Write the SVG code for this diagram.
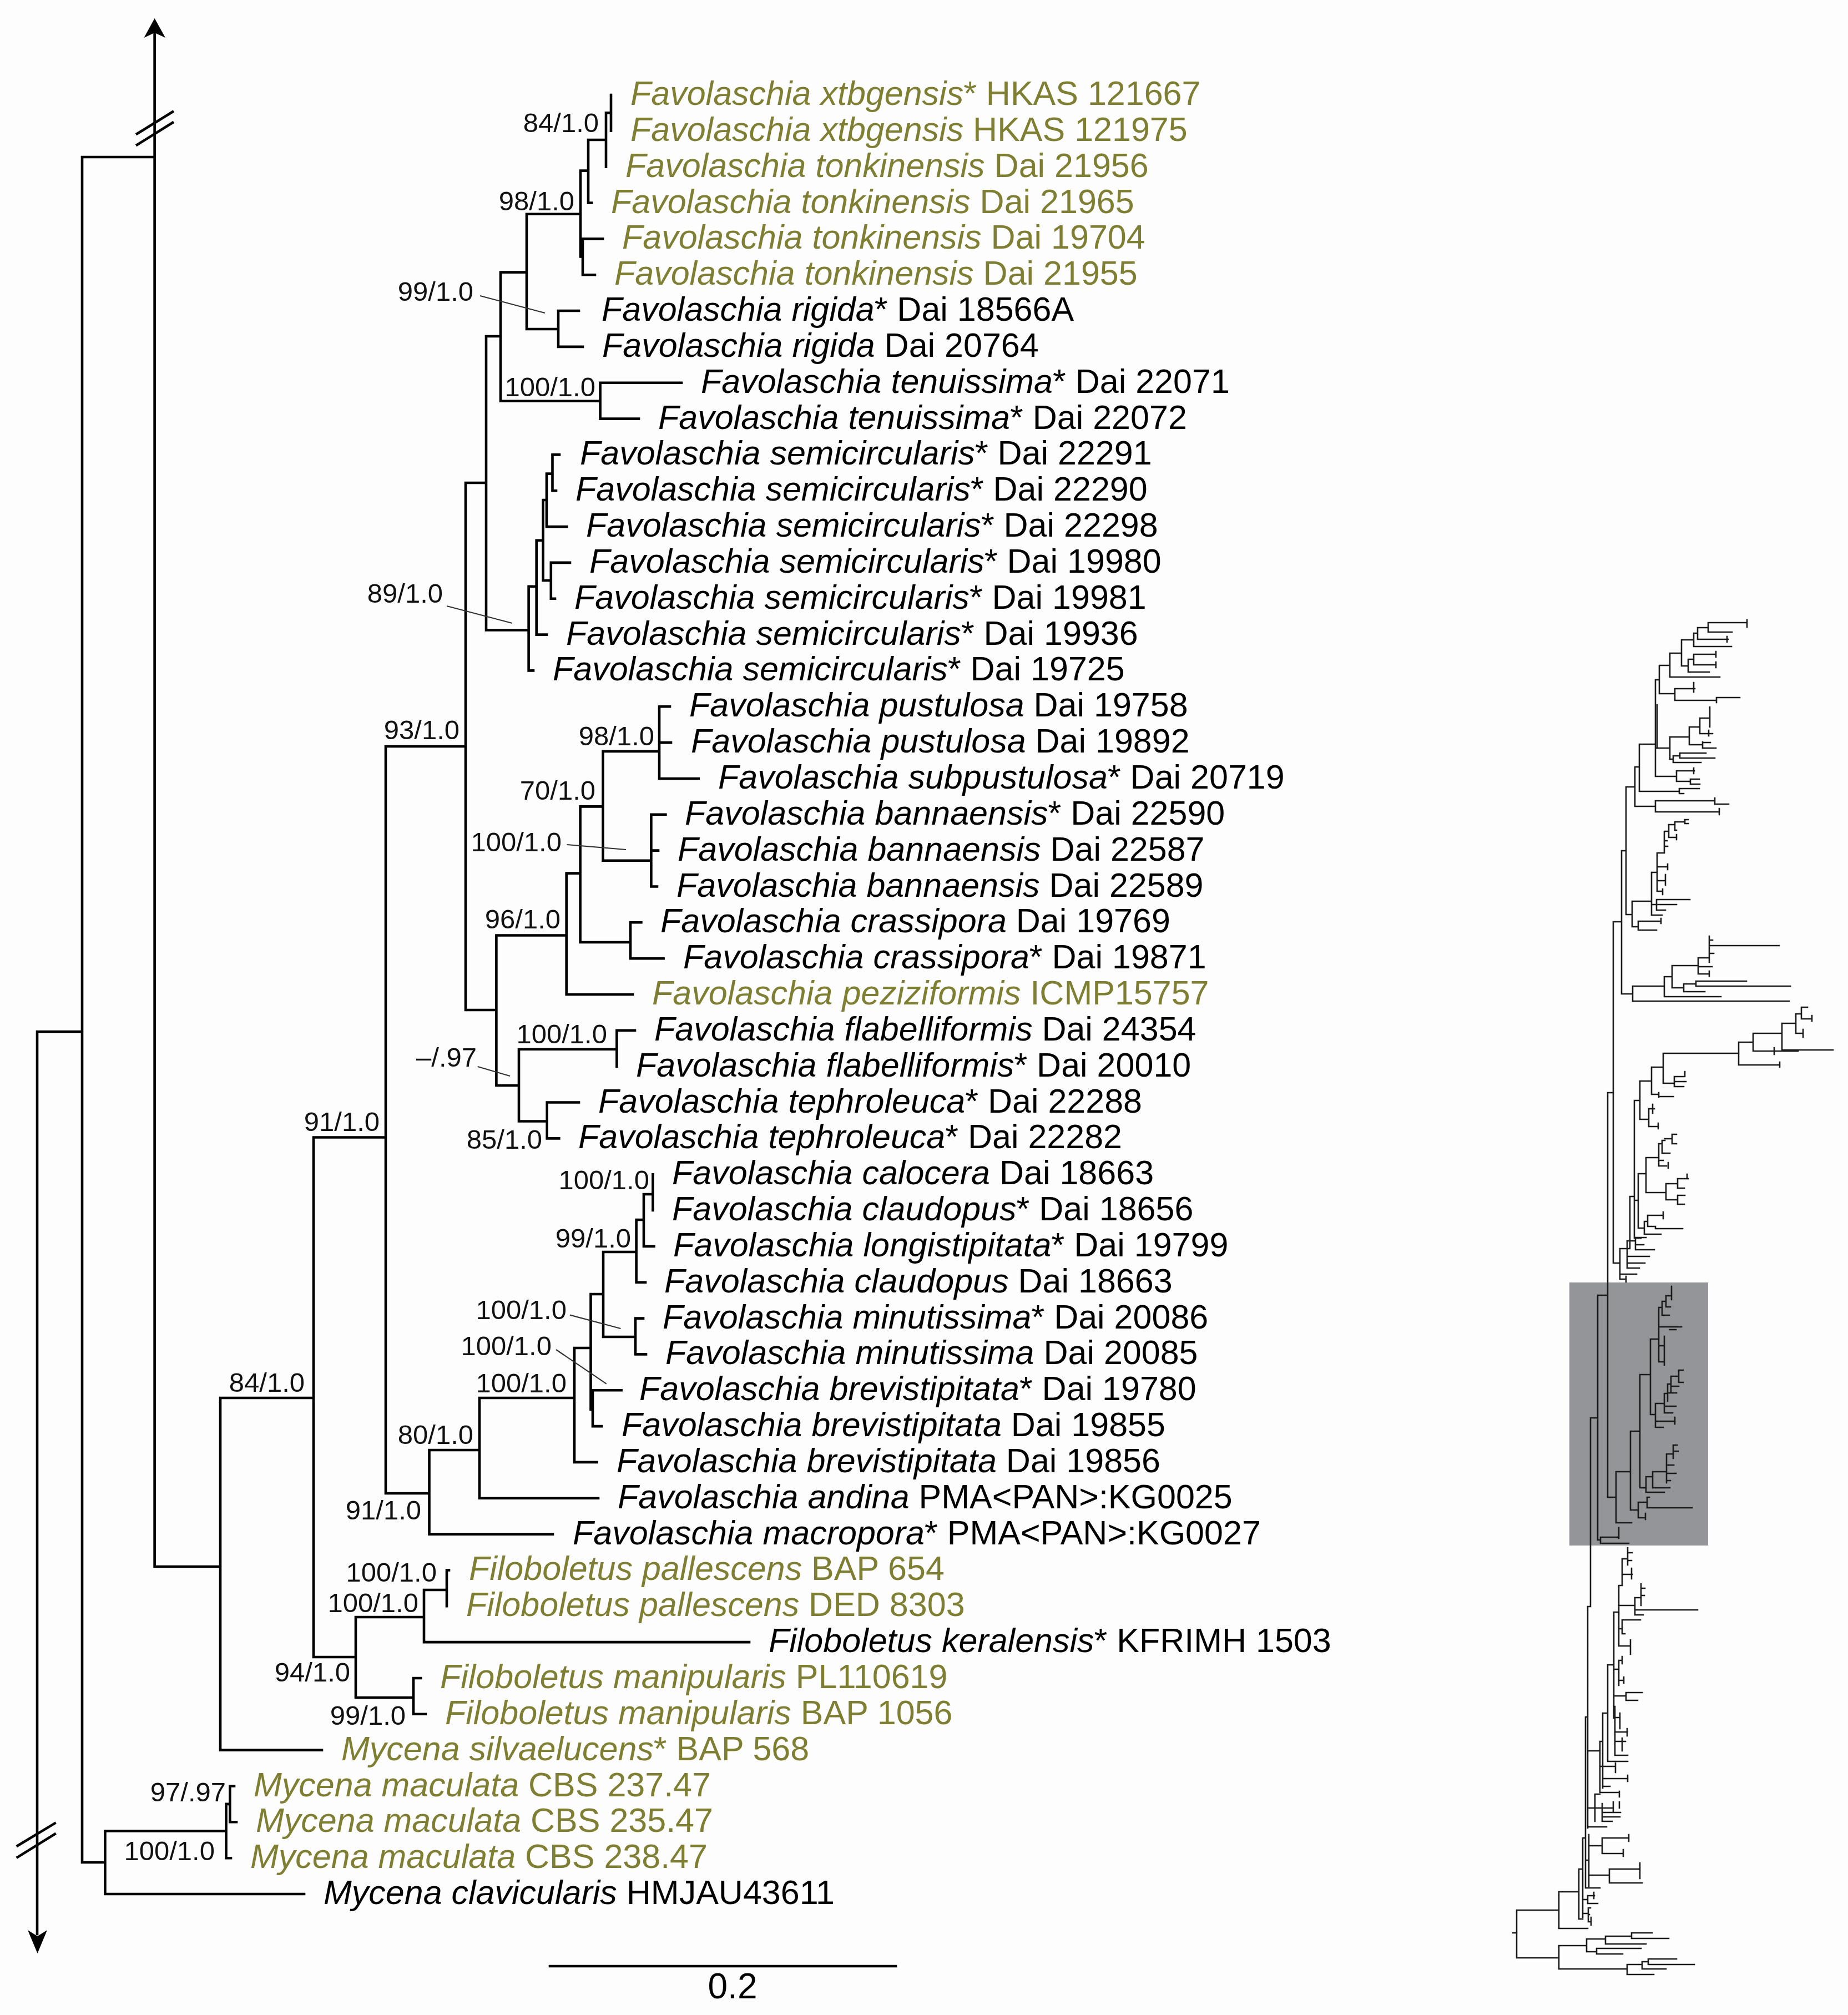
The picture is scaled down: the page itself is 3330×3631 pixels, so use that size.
<svg xmlns="http://www.w3.org/2000/svg" width="3330" height="3631" viewBox="0 0 3330 3631">
<style>
.br{fill:none;stroke:#000;stroke-width:4.6;stroke-linecap:square;stroke-linejoin:miter}
.ld{fill:none;stroke:#333;stroke-width:2.2}
.th{fill:none;stroke:#1a1a1a;stroke-width:2.6;stroke-linecap:square}
.tx{font-family:"Liberation Sans",Arial,sans-serif;font-size:61px;fill:#000}
.g{fill:#7f7f33}
.it{font-style:italic}
.sp{font-family:"Liberation Sans",Arial,sans-serif;font-size:49px;fill:#111;text-anchor:end}
.sc{font-family:"Liberation Sans",Arial,sans-serif;font-size:64px;fill:#000;text-anchor:middle}
</style>
<rect width="3330" height="3631" fill="#fdfdfd"/>

<g id="connectors">
<path class="br" d="M67 1859 H148 M67 1859 V3485 M148 283 V3356 M148 283 H278.6 M278.6 60 V2823 H397 M148 3356 H189.4
M189.4 3299.5 V3413 H548 M189.4 3299.5 H407.5 M407.5 3250.9 V3348.2 H416 M407.5 3250.9 H414.4 M414.4 3218.5 V3283.3 H426 M414.4 3218.5 H422
M397 2519 V3153.6 H580 M397 2519 H565
M565 2049.5 V2986 H641 M565 2049.5 H695
M641 2914 V3059 H745 M641 2914 H764
M745 3024 V3088.8 H767 M745 3024 H758
M764 2865 V2959.1 H1350 M764 2865 H805
M805 2829.4 V2894.3 M805 2829.4 H809
M695 1345 V2691 H773.5 M695 1345 H839
M773.5 2613 V2764.6 H996 M773.5 2613 H864
M864 2519 V2699.8 H1078 M864 2519 H1035
M1035 2429 V2634.9 H1075.5 M1035 2429 H1064.5
M1064.5 2332 V2540 H1068 M1064.5 2332 H1087
M1068 2505.2 V2570.1 H1084 M1068 2505.2 H1119.6
M1087 2256 V2409 H1145 M1087 2256 H1146.6
M1145 2375.6 V2440.4 H1164 M1145 2375.6 H1159
M1146.6 2198 V2310.7 H1163 M1146.6 2198 H1160
M1160 2152 V2245.9 H1178.5 M1160 2152 H1176.4
M1176.4 2116.2 V2181
M839 870 V1820 H894.4 M839 870 H876
M894.4 1685.5 V1956 H935 M894.4 1685.5 H1020.7
M935 1890.7 V2020.5 H985.7 M935 1890.7 H1111.4
M985.7 1986.5 V2051.4 H1007.3 M985.7 1986.5 H1043
M1111.4 1856.8 V1921.7 M1111.4 1856.8 H1144
M1020.7 1573.6 V1792 H1140 M1020.7 1573.6 H1045.6
M1045.6 1453.4 V1698 H1136 M1045.6 1453.4 H1086.5
M1136 1662.3 V1727.2 H1195.6 M1136 1662.3 H1155.4
M1086.5 1354 V1550.8 H1173.4 M1086.5 1354 H1188
M1173.4 1467.8 V1597.5 H1184 M1173.4 1467.8 H1199.4 M1173.4 1532.6 H1186
M1188 1273.3 V1403 H1258.7 M1188 1273.3 H1207 M1188 1338.1 H1209
M876 606 V1135.5 H952.6 M876 606 H902
M952.6 1056.7 V1208.4 H961 M952.6 1056.7 H966.7
M966.7 973.8 V1143.6 H985 M966.7 973.8 H978.6
M978.6 901 V1046 H992.8 M978.6 901 H985
M992.8 1013.9 V1078.8 H1000 M992.8 1013.9 H1027
M985 853.6 V949.1 H1021.5 M985 853.6 H995.5
M995.5 819.4 V884.2 H1002 M995.5 819.4 H1008
M902 490.6 V722.7 H1081.6 M902 490.6 H949
M1081.6 689.7 V754.6 H1151 M1081.6 689.7 H1228
M949 385.7 V593 H1006 M949 385.7 H1046
M1006 560 V624.9 H1050 M1006 560 H1043
M1046 307.6 V462.5 H1050 M1046 307.6 H1060
M1050 430.4 V495.2 H1072 M1050 430.4 H1086
M1060 252 V365.5 H1066 M1060 252 H1092
M1092 203.4 V300.7 M1092 203.4 H1101
M1101 171 V235.8
M991 3543 H1614"/>
<path class="br" d="M247 241 L311 201.5 M247 261 L311 221 M31.6 3326 L98.7 3285.6 M31.6 3346.6 L98.7 3305"/>
<polygon points="278.6,33 259.5,68 278.6,59 298,68" fill="#000"/>
<polygon points="67.5,3520 50,3478 67.5,3489 85,3478" fill="#000"/>
<path class="ld" d="M865 533 L982 564 M805 1092 L923 1123 M1021.5 1522 L1128 1531 M860.7 1922 L919 1939 M1027 2369.6 L1118.4 2394 M1002 2432 L1092.7 2493.7"/>
</g>

<g id="support">
<text class="sp" x="1079" y="238">84/1.0</text>
<text class="sp" x="1035" y="379">98/1.0</text>
<text class="sp" x="853" y="542">99/1.0</text>
<text class="sp" x="1073" y="714">100/1.0</text>
<text class="sp" x="798" y="1086">89/1.0</text>
<text class="sp" x="828" y="1332">93/1.0</text>
<text class="sp" x="1179" y="1343">98/1.0</text>
<text class="sp" x="1073" y="1441">70/1.0</text>
<text class="sp" x="1012" y="1534">100/1.0</text>
<text class="sp" x="1010" y="1673">96/1.0</text>
<text class="sp" x="1094" y="1880">100/1.0</text>
<text class="sp" x="859" y="1922">–/.97</text>
<text class="sp" x="977" y="2070">85/1.0</text>
<text class="sp" x="684" y="2038">91/1.0</text>
<text class="sp" x="1170" y="2143">100/1.0</text>
<text class="sp" x="1137" y="2248">99/1.0</text>
<text class="sp" x="1021" y="2377">100/1.0</text>
<text class="sp" x="994" y="2442">100/1.0</text>
<text class="sp" x="1021" y="2509">100/1.0</text>
<text class="sp" x="853" y="2602">80/1.0</text>
<text class="sp" x="759" y="2738">91/1.0</text>
<text class="sp" x="549" y="2508">84/1.0</text>
<text class="sp" x="787" y="2850">100/1.0</text>
<text class="sp" x="754" y="2905">100/1.0</text>
<text class="sp" x="631" y="3030">94/1.0</text>
<text class="sp" x="731" y="3108">99/1.0</text>
<text class="sp" x="407" y="3246">97/.97</text>
<text class="sp" x="387" y="3352">100/1.0</text>
</g>

<g id="taxa">
<g id="t1"><text class="tx g" x="1136" y="189"><tspan class="it">Favolaschia xtbgensis</tspan>* HKAS 121667</text></g>
<g id="t2"><text class="tx g" x="1136" y="253.8"><tspan class="it">Favolaschia xtbgensis</tspan> HKAS 121975</text></g>
<g id="t3"><text class="tx g" x="1127" y="318.7"><tspan class="it">Favolaschia tonkinensis</tspan> Dai 21956</text></g>
<g id="t4"><text class="tx g" x="1101" y="383.5"><tspan class="it">Favolaschia tonkinensis</tspan> Dai 21965</text></g>
<g id="t5"><text class="tx g" x="1121" y="448.4"><tspan class="it">Favolaschia tonkinensis</tspan> Dai 19704</text></g>
<g id="t6"><text class="tx g" x="1107" y="513.2"><tspan class="it">Favolaschia tonkinensis</tspan> Dai 21955</text></g>
<g id="t7"><text class="tx" x="1084" y="578"><tspan class="it">Favolaschia rigida</tspan>* Dai 18566A</text></g>
<g id="t8"><text class="tx" x="1085" y="642.9"><tspan class="it">Favolaschia rigida</tspan> Dai 20764</text></g>
<g id="t9"><text class="tx" x="1263" y="707.7"><tspan class="it">Favolaschia tenuissima</tspan>* Dai 22071</text></g>
<g id="t10"><text class="tx" x="1186" y="772.6"><tspan class="it">Favolaschia tenuissima</tspan>* Dai 22072</text></g>
<g id="t11"><text class="tx" x="1045" y="837.4"><tspan class="it">Favolaschia semicircularis</tspan>* Dai 22291</text></g>
<g id="t12"><text class="tx" x="1037" y="902.2"><tspan class="it">Favolaschia semicircularis</tspan>* Dai 22290</text></g>
<g id="t13"><text class="tx" x="1056" y="967.1"><tspan class="it">Favolaschia semicircularis</tspan>* Dai 22298</text></g>
<g id="t14"><text class="tx" x="1062" y="1031.9"><tspan class="it">Favolaschia semicircularis</tspan>* Dai 19980</text></g>
<g id="t15"><text class="tx" x="1035" y="1096.8"><tspan class="it">Favolaschia semicircularis</tspan>* Dai 19981</text></g>
<g id="t16"><text class="tx" x="1020" y="1161.6"><tspan class="it">Favolaschia semicircularis</tspan>* Dai 19936</text></g>
<g id="t17"><text class="tx" x="996" y="1226.4"><tspan class="it">Favolaschia semicircularis</tspan>* Dai 19725</text></g>
<g id="t18"><text class="tx" x="1242" y="1291.3"><tspan class="it">Favolaschia pustulosa</tspan> Dai 19758</text></g>
<g id="t19"><text class="tx" x="1245" y="1356.1"><tspan class="it">Favolaschia pustulosa</tspan> Dai 19892</text></g>
<g id="t20"><text class="tx" x="1294" y="1421"><tspan class="it">Favolaschia subpustulosa</tspan>* Dai 20719</text></g>
<g id="t21"><text class="tx" x="1234" y="1485.8"><tspan class="it">Favolaschia bannaensis</tspan>* Dai 22590</text></g>
<g id="t22"><text class="tx" x="1221" y="1550.6"><tspan class="it">Favolaschia bannaensis</tspan> Dai 22587</text></g>
<g id="t23"><text class="tx" x="1219" y="1615.5"><tspan class="it">Favolaschia bannaensis</tspan> Dai 22589</text></g>
<g id="t24"><text class="tx" x="1190" y="1680.3"><tspan class="it">Favolaschia crassipora</tspan> Dai 19769</text></g>
<g id="t25"><text class="tx" x="1231" y="1745.2"><tspan class="it">Favolaschia crassipora</tspan>* Dai 19871</text></g>
<g id="t26"><text class="tx g" x="1175" y="1810"><tspan class="it">Favolaschia peziziformis</tspan> ICMP15757</text></g>
<g id="t27"><text class="tx" x="1179" y="1874.8"><tspan class="it">Favolaschia flabelliformis</tspan> Dai 24354</text></g>
<g id="t28"><text class="tx" x="1146" y="1939.7"><tspan class="it">Favolaschia flabelliformis</tspan>* Dai 20010</text></g>
<g id="t29"><text class="tx" x="1078" y="2004.5"><tspan class="it">Favolaschia tephroleuca</tspan>* Dai 22288</text></g>
<g id="t30"><text class="tx" x="1042" y="2069.4"><tspan class="it">Favolaschia tephroleuca</tspan>* Dai 22282</text></g>
<g id="t31"><text class="tx" x="1211" y="2134.2"><tspan class="it">Favolaschia calocera</tspan> Dai 18663</text></g>
<g id="t32"><text class="tx" x="1211" y="2199"><tspan class="it">Favolaschia claudopus</tspan>* Dai 18656</text></g>
<g id="t33"><text class="tx" x="1213" y="2263.9"><tspan class="it">Favolaschia longistipitata</tspan>* Dai 19799</text></g>
<g id="t34"><text class="tx" x="1197" y="2328.7"><tspan class="it">Favolaschia claudopus</tspan> Dai 18663</text></g>
<g id="t35"><text class="tx" x="1194" y="2393.6"><tspan class="it">Favolaschia minutissima</tspan>* Dai 20086</text></g>
<g id="t36"><text class="tx" x="1199" y="2458.4"><tspan class="it">Favolaschia minutissima</tspan> Dai 20085</text></g>
<g id="t37"><text class="tx" x="1152" y="2523.2"><tspan class="it">Favolaschia brevistipitata</tspan>* Dai 19780</text></g>
<g id="t38"><text class="tx" x="1120" y="2588.1"><tspan class="it">Favolaschia brevistipitata</tspan> Dai 19855</text></g>
<g id="t39"><text class="tx" x="1111" y="2652.9"><tspan class="it">Favolaschia brevistipitata</tspan> Dai 19856</text></g>
<g id="t40"><text class="tx" x="1113" y="2717.8"><tspan class="it">Favolaschia andina</tspan> PMA&lt;PAN&gt;:KG0025</text></g>
<g id="t41"><text class="tx" x="1032" y="2782.6"><tspan class="it">Favolaschia macropora</tspan>* PMA&lt;PAN&gt;:KG0027</text></g>
<g id="t42"><text class="tx g" x="845" y="2847.4"><tspan class="it">Filoboletus pallescens</tspan> BAP 654</text></g>
<g id="t43"><text class="tx g" x="840" y="2912.3"><tspan class="it">Filoboletus pallescens</tspan> DED 8303</text></g>
<g id="t44"><text class="tx" x="1385" y="2977.1"><tspan class="it">Filoboletus keralensis</tspan>* KFRIMH 1503</text></g>
<g id="t45"><text class="tx g" x="793" y="3042"><tspan class="it">Filoboletus manipularis</tspan> PL110619</text></g>
<g id="t46"><text class="tx g" x="802" y="3106.8"><tspan class="it">Filoboletus manipularis</tspan> BAP 1056</text></g>
<g id="t47"><text class="tx g" x="615" y="3171.6"><tspan class="it">Mycena silvaelucens</tspan>* BAP 568</text></g>
<g id="t48"><text class="tx g" x="457" y="3236.5"><tspan class="it">Mycena maculata</tspan> CBS 237.47</text></g>
<g id="t49"><text class="tx g" x="461" y="3301.3"><tspan class="it">Mycena maculata</tspan> CBS 235.47</text></g>
<g id="t50"><text class="tx g" x="451" y="3366.2"><tspan class="it">Mycena maculata</tspan> CBS 238.47</text></g>
<g id="t51"><text class="tx" x="583" y="3431"><tspan class="it">Mycena clavicularis</tspan> HMJAU43611</text></g>
</g>

<g id="scalebar">
<text class="sc" x="1320" y="3601">0.2</text>
</g>

<g id="thumbnail">
<rect x="2828" y="2311" width="250" height="474" fill="#939598"/>
<path class="th" d="M3078 1122 H3148 M3148 1117 V1130 M3078 1122 V1139 H3121 M3059 1131 H3078 M3059 1131 V1152 H3114 M3112 1147 V1157 M3052 1141 H3059 M3052 1141 V1165 H3120 M3030 1153 H3052 M3030 1153 V1200 H3042 M3042 1188 V1211 H3080 M3042 1188 H3052 M3052 1179 V1198 H3092 M3092 1193 V1203 M3052 1179 H3092 M3092 1174 V1184 M3009 1177 H3030 M3009 1177 V1220 H3099 M2990 1199 H3009 M2990 1199 V1250 H3018 M3018 1241 V1262 H3093 M3093 1257 V1266 M3093 1257 H3135 M3018 1241 H3054 M3052 1230 V1247 M2983 1225 H2990 M2983 1225 V1399 H3021 M2983 1348 H3009 M2986 1270 V1346
M3081 1274 V1310 M3063 1294 H3081 M3063 1294 V1322 H3079 M3079 1316 V1326 M3079 1322 H3086 M3044 1310 H3063 M3044 1310 V1342 H3068 M3068 1337 V1348 M3068 1338 H3082 M3068 1348 H3092 M3009 1328 H3044 M3009 1328 V1368 H3015 M3015 1362 V1374 H3065 M3015 1362 H3027 M3027 1357 V1366 M3027 1357 H3074 M3027 1366 H3090 M3021 1389 V1408 M3021 1389 H3053 M3052 1384 V1394 M3021 1408 H3046 M3046 1404 V1413 M3046 1404 H3062 M3046 1413 H3063 M2954 1341 H2983 M2954 1341 V1426 H3026 M3026 1421 V1430 M3026 1421 H3062 M3026 1430 H3034 M2946 1382 H2954 M2946 1382 V1453 H2983 M2983 1443 V1463 H3098 M3098 1457 V1468 M2983 1443 H3090 M3090 1438 V1449 M3090 1449 H3115 M2930 1418 H2946 M2930 1418 V1648
M3036 1477 V1484 M3036 1477 H3042 M3036 1484 H3042 M3018 1481 H3036 M3018 1481 V1496 H3021 M3007 1486 H3018 M3007 1486 V1509 H3021 M3021 1504 V1513 M2999 1498 H3007 M2999 1498 V1535 M2999 1515 H3004 M2999 1525 H3005 M2986 1537 H2999 M2986 1537 V1606 M2986 1562 H3005 M3005 1557 V1567 M2986 1587 H3001 M3001 1576 V1595 M2986 1606 H2996 M2996 1602 V1612 M2976 1572 H2986 M2976 1572 V1649 H2995 M2976 1630 H2985 M2985 1621 V1640 M2985 1621 H3045 M2985 1630 H3021 M2985 1640 H3001 M2941 1624 H2976 M2941 1624 V1670 H2952 M2952 1660 V1676 M2952 1660 H2993 M2993 1655 V1664 M2952 1676 H2985 M2930 1648 H2941 M2922 1533 H2930 M2922 1533 V1791 H2942
M3080 1687 V1734 M3080 1704 H3206 M3080 1694 H3086 M3080 1718 H3088 M3060 1726 H3080 M3060 1726 V1755 H3080 M3080 1750 V1759 M3060 1742 H3085 M3013 1740 H3060 M3013 1740 V1780 H3034 M3034 1773 V1787 H3072 M3034 1773 H3056 M3056 1768 V1777 M3056 1768 H3147 M3056 1777 H3226 M2999 1760 H3013 M2999 1760 V1796 H3101 M2942 1777 H2999 M2942 1777 V1804 H3224 M2907 1661 H2922 M2907 1661 V2276 H2919
M2997 1898 H3133 M3133 1878 V1919 H3207 M3207 1914 V1923 M3133 1878 H3159 M3159 1862 V1894 H3240 M3197 1888 V1900 M3159 1862 H3211 M3211 1844 V1892 H3303 M3211 1844 H3236 M3236 1827 V1862 H3249 M3249 1855 V1869 M3236 1827 H3246 M3246 1815 V1836 H3265 M3265 1830 V1840 M3246 1815 H3257
M2997 1898 V1952 H3017 M3017 1940 V1958 H3034 M3017 1940 H3036 M3036 1931 V1940 M3017 1949 H3038 M2976 1923 H2997 M2976 1923 V1972 H2989 M2989 1969 V1977 M2989 1976 H3015 M2955 1948 H2976 M2955 1948 V2017 H2971 M2971 1998 V2030 H2988 M2988 2024 V2034 M2971 1998 H2981 M2978 1990 V2006 M2945 1983 H2955 M2945 1983 V2231 H2957
M2966 2086 V2149 H3002 M2966 2086 H2989 M2989 2061 V2101 H3003 M3006 2095 V2105 M2989 2061 H2995 M2995 2055 V2078 H3009 M2995 2055 H3000 M3000 2052 H3013 M3013 2044 V2061 M3013 2044 H3021 M3013 2061 H3021 M2989 2091 H2997 M3002 2133 V2162 M3002 2133 H3023 M3023 2124 V2141 H3035 M3023 2124 H3042 M3040 2116 V2124 M3002 2162 H3023 M3023 2154 V2170 H3035 M3023 2154 H3036 M2952 2115 H2966 M2952 2115 V2213 H2963 M2963 2201 V2224 H2993 M2963 2201 H2969 M2969 2190 V2210 H2983 M2983 2210 V2214 H3032 M2969 2190 H2997 M2997 2184 V2196 M2945 2163 H2952
M2937 2156 H2945 M2937 2156 V2250 H2919 M2932 2236 V2285 M2932 2236 H2947 M2947 2230 V2252 M2947 2230 H2966 M2947 2243 H2962 M2947 2252 H2981 M2932 2264 H2972 M2932 2276 H2964 M2932 2285 H2954 M2919 2250 V2305 H2930 M2930 2300 V2310 M2919 2296 H2949
M2897 1969 H2907 M2897 1969 V2698 H2912 M2879 2334 H2897 M2879 2334 V2775 H2884 M2884 2770 V2781 H2935 M2884 2770 H2917 M2917 2753 V2772 M2912 2652 V2744 H2940 M2912 2652 H2938 M2938 2579 V2721 H2952 M2952 2707 V2735 H2965 M2965 2727 V2738 M2952 2707 H2968 M2968 2698 V2717 H3049 M2968 2698 H2972 M2938 2579 H2955 M2955 2477 V2681 H2966 M2966 2661 V2689 H2999 M2966 2661 H2978 M2978 2652 V2681 H3009 M2978 2652 H3003 M3003 2620 V2672 M3003 2620 H3015 M3015 2604 V2628 M3015 2604 H3022 M3015 2615 H3024 M3003 2640 H3016 M3003 2655 H3020 M3003 2668 H3010 M2955 2477 H2974 M2974 2413 V2549 H2983 M2983 2529 V2572 H2997 M2983 2529 H2999 M2999 2511 V2546 H3014 M2999 2534 H3020 M2999 2511 H3005 M3005 2494 V2525 M3005 2510 H3021 M3005 2494 H3011 M3011 2480 V2510 M3011 2498 H3025 M3011 2480 H3025 M3025 2469 V2491 M3025 2469 H3033 M3025 2491 H3033 M2983 2561 H3018 M3018 2554 V2566 M2974 2413 H2989 M2989 2356 V2454 H2999 M2999 2408 V2460 M2989 2391 H3030 M3009 2396 H3020 M2989 2425 H2999 M2989 2356 H2995 M2995 2345 V2370 H3008 M2995 2345 H3002 M3002 2335 V2355 H3010 M3002 2335 H3012 M3012 2318 V2342
M2866 2555 H2879 M2866 2555 V2895 H2861 M2861 2895 V3294 M2857 3094 H2861 M2857 3094 V3402 H2883
M2923 2809 V2857 H2917 M2923 2809 H2933 M2933 2789 V2820 M2933 2798 H2941 M2933 2812 H2940 M2923 2837 H2941 M2940 2826 V2845 M2917 2857 V2966 H2938 M2938 2955 V2981 M2917 2893 H2946 M2946 2879 V2910 H2961 M2946 2879 H2957 M2957 2854 V2893 M2957 2862 H2964 M2957 2875 H2963 M2946 2901 H3059 M2917 2935 H2923 M2923 2919 V2944 H2928 M2923 2919 H2956 M2908 2905 H2917 M2908 2905 V3096 M2908 3008 H2917 M2917 2992 V3037 M2917 2992 H2923 M2923 2985 V2998 M2917 3028 H2926 M2926 3022 V3033 M2908 3056 H2930 M2930 3050 V3064 H2951 M2930 3050 H2959 M2908 3096 H2910 M2910 3075 V3163 H2933 M2910 3095 H2919 M2919 3087 V3115 M2910 3121 H2932 M2932 3115 V3128 M2910 3138 H2929 M2923 3132 V3155 M2897 3000 H2908 M2897 3000 V3174 H2933 M2888 3087 H2897 M2888 3087 V3222 M2883 3138 H2888 M2883 3138 V3230 H2918 M2918 3228 V3238 M2883 3183 H2911 M2911 3177 V3194 M2888 3205 H2933 M2933 3199 V3210 M2888 3219 H2901 M2861 3155 H2883 M2874 3233 V3282 M2874 3233 H2883 M2874 3258 H2887 M2887 3250 V3282 H2905 M2887 3258 H2907 M2907 3247 V3264 M2887 3266 H2920 M2918 3247 V3258 M2887 3274 H2919 M2861 3258 H2874 M2861 3292 H2895
M2863 3306 V3399 M2857 3352 H2863 M2863 3326 H2887 M2887 3312 V3340 H2925 M2925 3333 V3345 M2887 3312 H2935 M2935 3306 V3318 M2863 3379 H2900 M2900 3368 V3393 H2959 M2900 3368 H2955 M2955 3357 V3385 M2852 3312 V3455 M2852 3312 H2857 M2852 3423 H2861 M2861 3416 V3430 M2861 3416 H2873 M2872 3410 V3421 M2861 3430 H2879 M2852 3448 H2862 M2862 3438 V3463 M2862 3438 H2866 M2862 3450 H2864 M2862 3463 H2867 M2867 3455 V3469 M2845 3368 V3458 H2852 M2845 3368 H2852 M2809 3409 H2845 M2809 3409 V3475 H2861 M2733 3442 H2809 M2733 3442 V3528 H2809 M2726 3483 H2733 M2809 3506 V3548 H2932 M2809 3506 H2859 M2859 3494 V3517 H2877 M2859 3494 H2893 M2893 3489 V3503 H2966 M2893 3489 H2940 M2940 3483 V3493 H3007 M2940 3483 H2977 M2877 3511 V3521 H2924 M2877 3511 H2957 M2932 3540 V3558 H2980 M2932 3540 H2959 M2959 3535 V3548 H3002 M2959 3535 H2970 M2970 3530 V3540 H3053 M2970 3530 H3021"/>
</g>
</svg>
